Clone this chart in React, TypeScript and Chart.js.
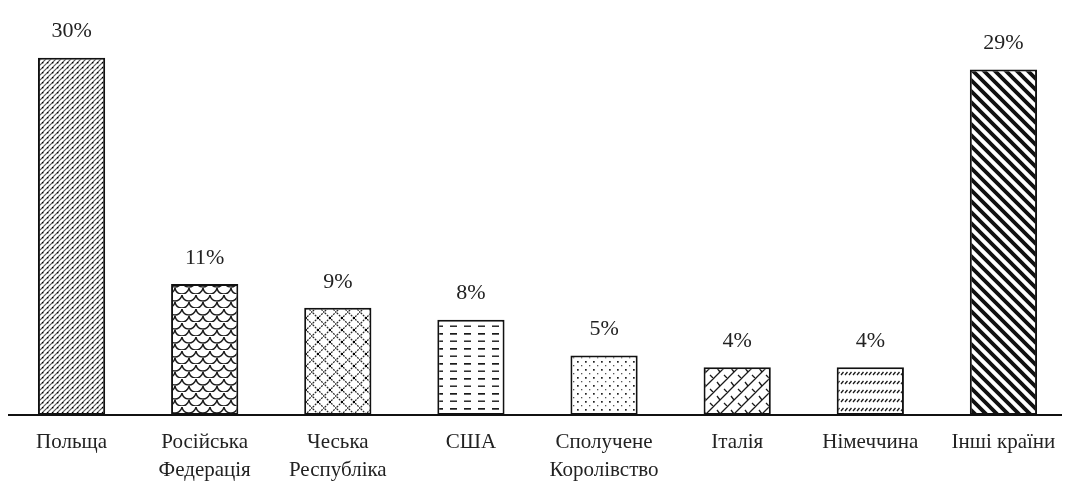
import React, { useEffect, useRef } from "react";
import { Chart, registerables } from "chart.js";

Chart.register(...registerables);

const categories: string[][] = [
  ["Польща"],
  ["Російська", "Федерація"],
  ["Чеська", "Республіка"],
  ["США"],
  ["Сполучене", "Королівство"],
  ["Італія"],
  ["Німеччина"],
  ["Інші країни"],
];
const shares: number[] = [30, 11, 9, 8, 5, 4, 4, 29];
const shareLabels: string[] = ["30%", "11%", "9%", "8%", "5%", "4%", "4%", "29%"];

const FONT = "'Liberation Serif', 'Times New Roman', serif";
const INK = "#1a1a1a";

function tile(w: number, h: number, draw: (c: CanvasRenderingContext2D) => void): CanvasPattern | string {
  const cv = document.createElement("canvas");
  cv.width = w;
  cv.height = h;
  const c = cv.getContext("2d");
  if (!c) return "#fff";
  c.fillStyle = "#fff";
  c.fillRect(0, 0, w, h);
  c.strokeStyle = INK;
  c.fillStyle = INK;
  draw(c);
  return c.createPattern(cv, "repeat") || "#fff";
}

function diag(c: CanvasRenderingContext2D, w: number, h: number, up: boolean) {
  c.beginPath();
  for (let k = -1; k <= 1; k++) {
    if (up) {
      c.moveTo(k * w - w, 2 * h);
      c.lineTo(k * w + 2 * w, -h);
    } else {
      c.moveTo(k * w - w, -h);
      c.lineTo(k * w + 2 * w, 2 * h);
    }
  }
  c.stroke();
}

function makePatterns() {
  return [
    // Польща: dense dotted upward diagonals
    tile(5, 5, (c) => {
      c.strokeStyle = "#555";
      c.lineWidth = 1.2;
      diag(c, 5, 5, true);
      c.fillStyle = "#000";
      c.fillRect(2, 2, 1.4, 1.4);
    }),
    // Російська Федерація: scales
    tile(14, 14, (c) => {
      c.lineWidth = 1.4;
      const r = 7;
      [[7, 0], [0, 7], [14, 7], [7, 14]].forEach(([x, y]) => {
        c.beginPath();
        c.arc(x, y, r, 0.15, Math.PI - 0.15);
        c.stroke();
      });
    }),
    // Чеська Республіка: lattice
    tile(12, 12, (c) => {
      c.lineWidth = 1.2;
      c.strokeStyle = "#2a2a2a";
      c.setLineDash([2, 1]);
      diag(c, 12, 12, true);
      diag(c, 12, 12, false);
      c.fillStyle = "#000";
      c.fillRect(5, 5, 2, 2);
    }),
    // США: horizontal dashes
    tile(14, 15, (c) => {
      c.fillRect(2, 3, 7, 1.7);
      c.fillRect(2, 10.5, 7, 1.4);
    }),
    // Сполучене Королівство: dots
    tile(8, 8, (c) => {
      c.fillStyle = "#222";
      c.fillRect(1, 1, 1.7, 1.7);
      c.fillStyle = "#555";
      c.fillRect(5, 5, 1.3, 1.3);
    }),
    // Італія: divot weave
    tile(14, 14, (c) => {
      c.lineWidth = 1.3;
      diag(c, 14, 14, true);
      c.beginPath();
      c.moveTo(3, 4);
      c.lineTo(6, 8);
      c.moveTo(10, 11);
      c.lineTo(13, 14);
      c.stroke();
    }),
    // Німеччина: rows of small slanted dashes
    tile(8, 9, (c) => {
      c.lineWidth = 1.3;
      c.beginPath();
      c.moveTo(1, 6);
      c.lineTo(3.5, 3);
      c.moveTo(5, 6);
      c.lineTo(7.5, 3);
      c.stroke();
    }),
    // Інші країни: thick downward diagonals
    tile(11, 11, (c) => {
      c.lineWidth = 3.8;
      c.strokeStyle = "#111";
      diag(c, 11, 11, false);
    }),
  ];
}

export default function App() {
  const ref = useRef<HTMLCanvasElement | null>(null);

  useEffect(() => {
    if (!ref.current) return;
    const patterns = makePatterns();

    const axisLine = {
      id: "axisLine",
      afterDatasetsDraw(chart: any) {
        const { ctx, chartArea } = chart;
        ctx.save();
        ctx.strokeStyle = "#111";
        ctx.lineWidth = 2;
        ctx.beginPath();
        ctx.moveTo(8, chartArea.bottom);
        ctx.lineTo(1062, chartArea.bottom);
        ctx.stroke();
        ctx.restore();
      },
    };

    const valueLabels = {
      id: "valueLabels",
      afterDatasetsDraw(chart: any) {
        const { ctx } = chart;
        const meta = chart.getDatasetMeta(0);
        ctx.save();
        ctx.font = `22px ${FONT}`;
        ctx.fillStyle = "#222";
        ctx.textAlign = "center";
        ctx.textBaseline = "middle";
        meta.data.forEach((bar: any, i: number) => {
          ctx.fillText(shareLabels[i], bar.x, bar.y - 26);
        });
        ctx.restore();
      },
    };

    const chart = new Chart(ref.current, {
      type: "bar",
      data: {
        labels: categories,
        datasets: [
          {
            data: shares,
            backgroundColor: patterns as any,
            borderColor: "#111",
            borderWidth: 2,
            borderSkipped: false,
            barPercentage: 0.505,
            categoryPercentage: 1,
          },
        ],
      },
      options: {
        animation: false,
        responsive: true,
        maintainAspectRatio: false,
        layout: { padding: { left: 5, right: 0, top: 10, bottom: 3 } },
        plugins: {
          legend: { display: false },
          tooltip: { enabled: false },
        },
        scales: {
          x: {
            offset: true,
            grid: { display: false, drawTicks: false },
            border: { display: false },
            ticks: {
              color: "#222",
              padding: 14,
              maxRotation: 0,
              autoSkip: false,
              font: { family: FONT, size: 21, lineHeight: 1.33 },
            },
            afterFit(scale: any) {
              scale.height = 68;
            },
          },
          y: {
            display: false,
            min: 0,
            max: 34,
          },
        },
      },
      plugins: [axisLine, valueLabels],
    });

    return () => chart.destroy();
  }, []);

  return (
    <div style={{ position: "absolute", left: 0, top: 0, width: 1070, height: 486, background: "#fff" }}>
      <canvas ref={ref} />
    </div>
  );
}
